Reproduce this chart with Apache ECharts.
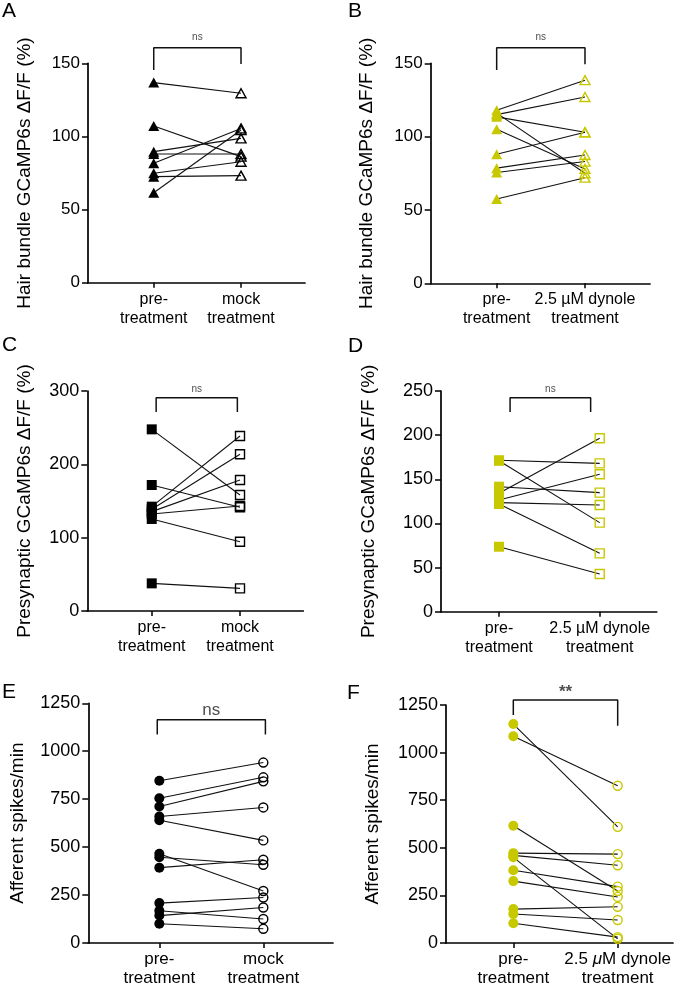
<!DOCTYPE html>
<html><head><meta charset="utf-8">
<script src="https://cdn.jsdelivr.net/npm/echarts@6/dist/echarts.min.js"></script>
<style>html,body{margin:0;padding:0;background:#fff}#c{width:687px;height:988px}</style>
</head><body><div id="c"></div>
<script>
// ---------- data ----------
const catMock = ['pre-\ntreatment', 'mock\ntreatment'];
const catDynole = ['pre-\ntreatment', '2.5 µM dynole\ntreatment'];
const catDynoleItalic = ['pre-\ntreatment', '2.5 μM dynole\ntreatment'];

const yNameHair = 'Hair bundle GCaMP6s ΔF/F (%)';
const yNamePre = 'Presynaptic GCaMP6s ΔF/F (%)';
const yNameAff = 'Afferent spikes/min';

const A_pre  = [136.8, 107.1, 89.6, 88.0, 81.6, 74.8, 72.5, 61.5];
const A_post = [129.5, 86.2, 98.7, 88.0, 105.5, 82.7, 73.2, 104.4];

const B_pre  = [118, 115, 113.5, 116, 105, 88, 78.5, 75.5, 57.5];
const B_post = [138.5, 127, 103, 75, 78, 103, 87.5, 83, 72];

const C_pre  = [247.7, 171.8, 142.3, 138.7, 135.5, 132.3, 125.5, 37.7];
const C_post = [158.2, 141.4, 238.6, 213.7, 178.6, 143.2, 94.5, 30.9];

const D_pre  = [171.5, 171, 141.6, 134.1, 126.5, 123.5, 122, 73.6];
const D_post = [168, 100.9, 134.9, 196.4, 155.7, 120.9, 66.1, 42.7];

const E_pre  = [846, 755, 712, 660, 640, 465, 447, 393, 208, 168, 143, 100];
const E_post = [941, 864, 843, 707, 535, 271, 408, 434, 237, 125, 185, 74];

const F_pre  = [1150, 1086, 616, 472, 460, 450, 382, 325, 178, 152, 104];
const F_post = [610, 826, 273, 467, 408, 22, 296, 242, 190, 121, 31];

// bracket: [xLeft, xRight, yLeftBottom, yTop, yRightBottom, yText]
const A_bracket = [1, 2, 145.4, 160.7, 149.5, 167.5];
const B_bracket = [1, 2, 145.4, 160.6, 149.3, 167.5];
const C_bracket = [1.05, 1.97, 271.4, 290.9, 271.4, 302.7];
const D_bracket = [1.11, 1.91, 226.2, 242.4, 226.2, 252.3];
const E_bracket = [0.98, 2.02, 1087, 1164, 1087, 1212];
const F_bracket = [1, 2, 1198, 1276, 1141, 1317];
const sigText = ['ns', 'ns', 'ns', 'ns', 'ns', '**'];

const yTicks = {A: [0, 150, 50], B: [0, 150, 50], C: [0, 300, 100], D: [0, 250, 50], E: [0, 1250, 250], F: [0, 1250, 250]};

// ---------- layout / style ----------
const FONT = '"Liberation Sans", Arial, Helvetica, sans-serif';
const YEL = '#c8c800';
const panels = [
  {key:'A', pre:A_pre, post:A_post, br:A_bracket, cats:catMock, yname:yNameHair, grid:{left:88, top:63.3, width:217, height:219.4}, xr:[0.247, 2.733], color:'#000', sym:'triangle', size:[11,10], nameGap:54, tickFont:17, catFont:16, sigFont:10},
  {key:'B', pre:B_pre, post:B_post, br:B_bracket, cats:catDynole, yname:yNameHair, grid:{left:430.7, top:63.3, width:219.3, height:220}, xr:[0.253, 2.736], color:YEL, sym:'triangle', size:[11,10], nameGap:54, tickFont:17, catFont:16, sigFont:10},
  {key:'C', pre:C_pre, post:C_post, br:C_bracket, cats:catMock, yname:yNamePre, grid:{left:87.3, top:391, width:216, height:220}, xr:[0.27, 2.717], color:'#000', sym:'rect', size:[10,10], nameGap:53, tickFont:18, catFont:16, sigFont:10},
  {key:'D', pre:D_pre, post:D_post, br:D_bracket, cats:catDynole, yname:yNamePre, grid:{left:441, top:391, width:215.7, height:220.7}, xr:[0.424, 2.566], color:YEL, sym:'rect', size:[10,10], nameGap:63, tickFont:18, catFont:16, sigFont:10},
  {key:'E', pre:E_pre, post:E_post, br:E_bracket, cats:catMock, yname:yNameAff, grid:{left:88.3, top:703.3, width:244.7, height:242.7}, xr:[0.317, 2.67], color:'#000', sym:'circle', size:[10,10], nameGap:61, tickFont:18, catFont:17, sigFont:17},
  {key:'F', pre:F_pre, post:F_post, br:F_bracket, cats:catDynoleItalic, yname:yNameAff, grid:{left:446, top:705, width:227, height:241}, xr:[0.355, 2.53], color:YEL, sym:'circle', size:[10,10], nameGap:64, tickFont:18, catFont:17, sigFont:17, sigBold:true}
];

const grids = [], xAxes = [], yAxes = [], series = [];
panels.forEach((p, i) => {
  grids.push(Object.assign({containLabel:false}, p.grid));
  const yt = yTicks[p.key];
  const labelFmt = (v) => {
    const c = v === 1 ? p.cats[0] : p.cats[1];
    if (p.key === 'F' && v === 2) {
      return '{n|2.5 }{i|μ}{n|M dynole}\n{n|treatment}';
    }
    return c;
  };
  xAxes.push({
    type:'value', gridIndex:i, min:p.xr[0], max:p.xr[1],
    splitLine:{show:false},
    axisLine:{show:true, lineStyle:{color:'#000', width:1.7}},
    axisTick:{show:true, customValues:[1,2], length:5, lineStyle:{color:'#000', width:1.5}},
    axisLabel:{show:true, customValues:[1,2], formatter:labelFmt, color:'#000', fontFamily:FONT, fontSize:p.catFont, lineHeight:19, margin:7, align:'center',
      rich:{n:{fontFamily:FONT, fontSize:p.catFont, lineHeight:19, color:'#000'}, i:{fontFamily:FONT, fontSize:p.catFont, fontStyle:'italic', lineHeight:19, color:'#000'}}}
  });
  yAxes.push({
    type:'value', gridIndex:i, min:yt[0], max:yt[1], interval:yt[2],
    name:p.yname, nameLocation:'middle', nameGap:p.nameGap,
    nameTextStyle:{fontFamily:FONT, fontSize:19, color:'#000'},
    splitLine:{show:false},
    axisLine:{show:true, lineStyle:{color:'#000', width:1.7}},
    axisTick:{show:true, length:6, lineStyle:{color:'#000', width:1.5}},
    axisLabel:{color:'#000', fontFamily:FONT, fontSize:p.tickFont, margin:8, formatter:(v) => String(v)}
  });
  // connecting lines
  p.pre.forEach((v, k) => {
    series.push({type:'line', xAxisIndex:i, yAxisIndex:i, data:[[1, v], [2, p.post[k]]], symbol:'none', silent:true,
      lineStyle:{color:'#111', width:1.1}, z:2, animation:false});
  });
  // pre markers (filled)
  series.push({type:'scatter', xAxisIndex:i, yAxisIndex:i, data:p.pre.map(v => [1, v]), symbol:p.sym, symbolSize:p.size,
    itemStyle:{color:p.color, opacity:1}, z:3, animation:false, silent:true});
  // post markers (hollow)
  series.push({type:'scatter', xAxisIndex:i, yAxisIndex:i, data:p.post.map(v => [2, v]), symbol:p.sym, symbolSize:[p.size[0]-1, p.size[1]-1],
    itemStyle:{color:'rgba(255,255,255,0)', borderColor:p.color, borderWidth:1.4, opacity:1}, z:4, animation:false, silent:true});
  // bracket
  const b = p.br;
  series.push({type:'line', xAxisIndex:i, yAxisIndex:i, clip:false, symbol:'none', silent:true, animation:false,
    data:[[b[0], b[2]], [b[0], b[3]], [b[1], b[3]], [b[1], b[4]]],
    lineStyle:{color:'#111', width:1.5}, z:2});
  // significance label
  series.push({type:'scatter', xAxisIndex:i, yAxisIndex:i, clip:false, silent:true, animation:false,
    data:[[(b[0] + b[1]) / 2, b[5]]], symbolSize:1, itemStyle:{color:'rgba(0,0,0,0)'},
    label:{show:true, position:'inside', formatter:sigText[i], fontFamily:FONT, fontSize:p.sigFont,
      fontWeight:p.sigBold ? 'bold' : 'normal', color:'#222'}});
});

const letters = [
  {t:'A', x:2, y:12}, {t:'B', x:348, y:12},
  {t:'C', x:2, y:346}, {t:'D', x:348, y:347},
  {t:'E', x:2, y:693}, {t:'F', x:347, y:694}
];

const chart = echarts.init(document.getElementById('c'), null, {renderer:'canvas'});
chart.setOption({
  animation:false,
  backgroundColor:'#fff',
  grid:grids, xAxis:xAxes, yAxis:yAxes, series:series,
  graphic:letters.map(l => ({type:'text', left:l.x, top:l.y - 11, style:{text:l.t, fontFamily:FONT, fontSize:21, fill:'#000'}}))
});
</script>
</body></html>
